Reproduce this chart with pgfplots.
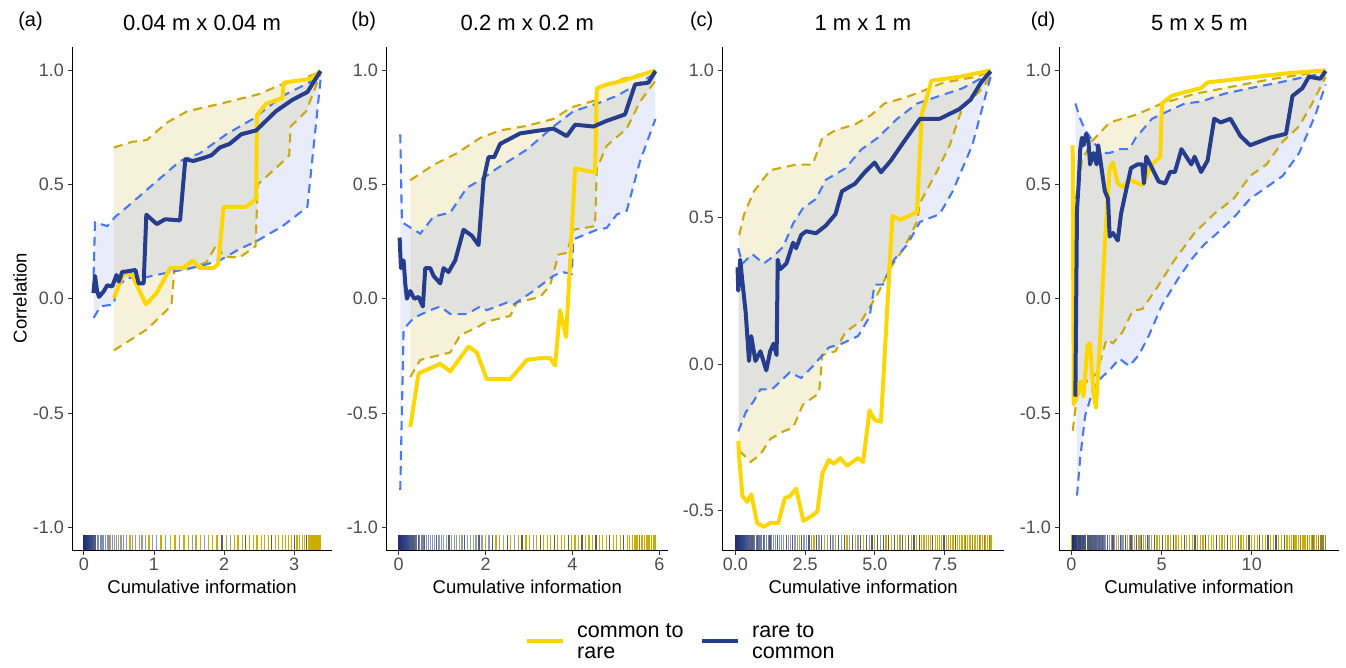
\documentclass[border=0pt]{standalone}
\usepackage{fontspec}
\setmainfont{Liberation Sans}
\usepackage{pgfplots}
\pgfplotsset{compat=1.18}
\usepgfplotslibrary{fillbetween}
\definecolor{navy}{HTML}{263D8E}
\definecolor{gold}{HTML}{FFD700}
\definecolor{dgold}{HTML}{C9A90E}
\definecolor{dblue}{HTML}{4A78F0}
\definecolor{sy}{HTML}{D9C766}
\definecolor{sb}{HTML}{8FA6EA}
\definecolor{tickgray}{HTML}{4D4D4D}
\pgfplotsset{
  colormap={rugmap}{color(0cm)=(navy) color(1cm)=(sb!70!white) color(2cm)=(gold) color(3cm)=(black!55)},
  panel/.style={
    set layers,
    scale only axis, height=502.5pt,
    anchor=south west,
    axis lines*=left,
    axis line style={black, line width=0.7pt},
    tick align=outside, major tick length=4.5pt,
    tick style={black!80, line width=0.7pt},
    ticklabel style={font=\fontsize{18}{20}\selectfont, text=tickgray},
    /pgf/number format/assume math mode=true,
    xlabel={Cumulative information},
    xlabel style={font=\fontsize{18.5}{20}\selectfont, at={(axis description cs:0.5,0)}, anchor=center, yshift=-36.7pt},
    ytick={-1,-0.5,0,0.5,1},
    yticklabel style={/pgf/number format/fixed, /pgf/number format/fixed zerofill, /pgf/number format/precision=1},
    ymin=-1.1, ymax=1.1,
  },
  thickY/.style={gold, line width=4pt, line join=round},
  thickB/.style={navy, line width=4pt, line join=round},
  dashY/.style={dgold, line width=2.1pt, dash pattern=on 9pt off 6pt},
  dashB/.style={dblue, line width=2.1pt, dash pattern=on 9pt off 6pt},
  rugplot/.style={scatter, only marks, mark=|, mark size=7.5pt, mark options={line width=1.2pt}, scatter src=explicit, point meta min=0, point meta max=3, colormap name=rugmap},
  fillY/.style={fill=sy, fill opacity=0.24, draw=none},
  fillB/.style={fill=sb, fill opacity=0.2, draw=none},
}
\begin{document}
\begin{tikzpicture}[x=1pt,y=1pt]
\path (0,0) rectangle (1346,667);
% ---------------- (a)
\begin{axis}[panel, at={(72pt,117pt)}, width=260pt, xmin=-0.168, xmax=3.54, xtick={0,1,2,3}]
\addplot[name path=yu, dashY] coordinates {(0.429,0.662) (0.689,0.687) (0.9,0.695) (1.18,0.77) (1.47,0.82) (2.03,0.86) (2.5,0.896) (2.79,0.935) (3.1,0.96) (3.377,0.995)};
\addplot[name path=yl, dashY] coordinates {(0.429,-0.226) (0.689,-0.176) (0.9,-0.134) (1.05,-0.09) (1.25,-0.03) (1.29,0.12) (1.5,0.13) (1.75,0.16) (1.9,0.24) (1.99,0.185) (2.22,0.18) (2.45,0.23) (2.48,0.5) (2.79,0.586) (2.93,0.628) (2.95,0.754) (3.17,0.82) (3.377,0.985)};
\addplot[name path=bu, dashB] coordinates {(0.14,0.1) (0.16,0.335) (0.335,0.318) (0.453,0.36) (0.618,0.402) (0.9,0.477) (1.373,0.603) (1.656,0.637) (2.033,0.72) (2.41,0.787) (2.835,0.888) (3.212,0.946) (3.377,0.99)};
\addplot[name path=bl, dashB] coordinates {(0.14,-0.084) (0.24,-0.033) (0.429,-0.025) (0.47,0.05) (0.618,0.092) (0.854,0.092) (1.373,0.126) (1.656,0.142) (1.939,0.168) (2.222,0.218) (2.458,0.251) (2.835,0.318) (3.189,0.402) (3.377,0.96)};
\addplot[fillY] fill between[of=yu and yl];
\addplot[fillB] fill between[of=bu and bl];
\addplot[rugplot] table[row sep=\\, x=x, y expr=-1.067, meta=m] {
x m\\ 0 0\\ 0.01 0\\ 0.02 0\\ 0.03 0.05\\ 0.04 0.05\\ 0.05 0.1\\ 0.06 0.1\\ 0.07 0.15\\ 0.08 0.15\\ 0.09 0.2\\ 0.10 0.2\\ 0.11 0.25\\ 0.12 0.3\\ 0.13 0.3\\ 0.14 0.35\\ 0.15 0.4\\ 0.165 3\\
0.19 0.8\\ 0.21 0.9\\ 0.235 0.8\\ 0.26 0.9\\ 0.285 0.85\\ 0.31 0.9\\ 0.335 1\\ 0.36 0.9\\ 0.385 2\\ 0.41 0.9\\ 0.44 1\\ 0.47 0.9\\ 0.5 2\\ 0.53 1\\ 0.57 0.9\\ 0.61 1\\ 0.66 2\\ 0.7 1\\ 0.74 1\\ 0.79 2\\ 0.83 1\\ 0.88 1\\ 0.93 2\\ 0.98 1\\ 1.04 1\\ 1.1 2\\ 1.17 1\\ 1.24 2\\ 1.3 2\\ 1.36 1\\ 1.43 2\\ 1.49 2\\ 1.55 1\\ 1.6 2\\ 1.66 2\\ 1.72 1\\ 1.78 2\\ 1.84 2\\ 1.9 2\\ 1.97 3\\ 2.03 2\\ 2.09 1\\ 2.15 2\\ 2.2 2\\ 2.26 2\\ 2.31 3\\ 2.36 2\\ 2.42 2\\ 2.47 2\\ 2.53 2\\ 2.58 2\\ 2.63 2\\ 2.68 3\\ 2.73 2\\ 2.78 2\\ 2.83 2\\ 2.88 2\\ 2.92 2\\ 2.96 2\\ 3.0 3\\ 3.04 2\\ 3.08 2\\ 3.12 2\\ 3.15 2\\ 3.18 3\\
3.21 2\\ 3.22 2\\ 3.23 2\\ 3.24 2\\ 3.25 2\\ 3.26 2\\ 3.27 2\\ 3.28 2\\ 3.29 2\\ 3.3 2\\ 3.31 2\\ 3.32 2\\ 3.33 2\\ 3.34 2\\ 3.35 2\\ 3.36 2\\ 3.37 2\\
};
\addplot[thickY] coordinates {(0.429,0.003) (0.571,0.114) (0.689,0.104) (0.887,-0.025) (1.04,0.025) (1.231,0.134) (1.42,0.134) (1.552,0.168) (1.656,0.134) (1.844,0.134) (1.915,0.151) (1.995,0.402) (2.316,0.402) (2.458,0.436) (2.47,0.804) (2.6,0.854) (2.835,0.879) (2.85,0.946) (3.236,0.963) (3.377,0.997)};
\addplot[thickB] coordinates {(0.137,0.025) (0.16,0.10) (0.19,0.034) (0.217,0.008) (0.288,0.034) (0.335,0.059) (0.406,0.054) (0.467,0.104) (0.5,0.075) (0.547,0.117) (0.642,0.121) (0.736,0.126) (0.783,0.067) (0.854,0.067) (0.892,0.368) (1.042,0.327) (1.16,0.348) (1.373,0.343) (1.448,0.611) (1.561,0.603) (1.703,0.616) (1.821,0.628) (1.939,0.662) (2.08,0.678) (2.245,0.72) (2.458,0.737) (2.74,0.821) (2.976,0.871) (3.189,0.905) (3.377,0.997)};
\end{axis}
% ---------------- (b)
\begin{axis}[panel, at={(386pt,117pt)}, width=282.5pt, xmin=-0.29, xmax=6.21, xtick={0,2,4,6}]
\addplot[name path=yu, dashY] coordinates {(0.268,0.519) (0.805,0.586) (1.341,0.637) (1.877,0.704) (2.337,0.737) (2.95,0.757) (3.563,0.787) (3.977,0.838) (4.52,0.868) (4.56,0.921) (5.172,0.963) (5.91,1.0)};
\addplot[name path=yl, dashY] coordinates {(0.268,-0.343) (0.498,-0.268) (1.188,-0.235) (1.418,-0.159) (1.8,-0.126) (2.03,-0.1) (2.567,-0.075) (2.72,-0.017) (3.257,0.008) (3.487,0.059) (3.678,0.193) (3.87,0.201) (4.023,0.302) (4.52,0.318) (4.56,0.57) (4.789,0.67) (5.249,0.745) (5.556,0.863) (5.91,0.955)};
\addplot[name path=bu, dashB] coordinates {(0.038,0.72) (0.077,0.335) (0.498,0.285) (0.805,0.36) (1.188,0.377) (1.571,0.486) (1.877,0.519) (2.261,0.57) (2.95,0.653) (3.563,0.754) (4.023,0.821) (4.56,0.854) (5.019,0.888) (5.556,0.946) (5.91,0.988)};
\addplot[name path=bl, dashB] coordinates {(0.038,-0.838) (0.115,-0.134) (0.345,-0.084) (0.728,-0.05) (0.958,-0.034) (1.188,-0.067) (1.571,-0.067) (1.877,-0.034) (2.03,-0.05) (2.49,-0.017) (2.644,-0.025) (3.1,0.034) (3.563,0.1) (3.755,0.117) (3.985,0.109) (4.023,0.26) (4.56,0.302) (4.789,0.31) (5.019,0.369) (5.249,0.385) (5.556,0.603) (5.91,0.787)};
\addplot[fillY] fill between[of=yu and yl];
\addplot[fillB] fill between[of=bu and bl];
\addplot[rugplot] table[row sep=\\, x=x, y expr=-1.067, meta=m] {
x m\\ 0 0\\ 0.02 0\\ 0.04 0.05\\ 0.06 0.05\\ 0.08 0.1\\ 0.1 0.1\\ 0.12 0.15\\ 0.14 0.15\\ 0.16 0.2\\ 0.18 0.2\\ 0.2 0.25\\ 0.22 0.3\\ 0.24 0.3\\ 0.26 0.35\\ 0.28 0.4\\ 0.3 0.4\\ 0.33 3\\ 0.36 0.5\\ 0.39 0.55\\ 0.42 0.6\\ 0.45 3\\ 0.48 0.7\\ 0.52 0.75\\ 0.56 0.8\\ 0.6 3\\ 0.64 0.85\\ 0.68 0.9\\ 0.73 1\\ 0.78 0.9\\ 0.83 1\\ 0.88 3\\ 0.93 1\\ 0.98 0.9\\ 1.04 1\\ 1.1 1\\ 1.16 3\\ 1.22 1\\ 1.28 0.9\\ 1.34 1\\ 1.4 2\\ 1.46 1\\ 1.52 3\\ 1.58 1\\ 1.65 1\\ 1.72 2\\ 1.78 1\\ 1.85 3\\ 1.92 1\\ 2.0 2\\ 2.08 1\\ 2.16 3\\ 2.24 2\\ 2.33 1\\ 2.42 2\\ 2.5 3\\ 2.58 2\\ 2.66 1\\ 2.75 2\\ 2.84 3\\ 2.93 2\\ 3.02 2\\ 3.1 1\\ 3.18 2\\ 3.26 3\\ 3.34 2\\ 3.42 2\\ 3.5 2\\ 3.58 3\\ 3.66 2\\ 3.74 2\\ 3.82 2\\ 3.9 3\\ 3.98 2\\ 4.06 2\\ 4.14 2\\ 4.22 3\\ 4.3 2\\ 4.38 2\\ 4.46 2\\ 4.54 3\\ 4.62 2\\ 4.7 2\\ 4.78 2\\ 4.86 3\\ 4.94 2\\ 5.02 2\\ 5.1 2\\ 5.18 3\\ 5.26 2\\ 5.32 2\\ 5.38 2\\ 5.42 2\\ 5.46 2\\ 5.5 2\\ 5.54 2.5\\ 5.58 2\\ 5.62 2\\ 5.66 2\\ 5.7 2\\ 5.74 2\\ 5.78 2\\ 5.82 2\\ 5.86 2\\ 5.9 2\\ 5.92 2\\
};
\addplot[thickY] coordinates {(0.268,-0.561) (0.46,-0.327) (0.958,-0.285) (1.188,-0.318) (1.609,-0.209) (1.8,-0.235) (2.03,-0.352) (2.567,-0.352) (2.797,-0.302) (2.95,-0.268) (3.257,-0.26) (3.487,-0.26) (3.6,-0.293) (3.716,-0.05) (3.854,-0.168) (4.061,0.57) (4.52,0.553) (4.56,0.921) (4.789,0.938) (5.172,0.955) (5.862,0.997) (5.91,1.0)};
\addplot[thickB] coordinates {(0.023,0.268) (0.054,0.134) (0.115,0.168) (0.153,0.067) (0.19,0.0) (0.268,0.034) (0.36,0.0) (0.46,0.008) (0.559,-0.034) (0.613,0.134) (0.728,0.134) (0.805,0.1) (0.958,0.067) (1.034,0.134) (1.149,0.117) (1.303,0.168) (1.494,0.302) (1.686,0.276) (1.839,0.235) (1.954,0.519) (2.069,0.62) (2.199,0.62) (2.337,0.678) (2.797,0.724) (3.257,0.737) (3.563,0.745) (3.87,0.712) (4.061,0.762) (4.483,0.754) (4.789,0.779) (5.21,0.807) (5.44,0.938) (5.747,0.946) (5.91,0.997)};
\end{axis}
% ---------------- (c)
\begin{axis}[panel, at={(722pt,117pt)}, width=282.3pt, xmin=-0.477, xmax=9.64, ymin=-0.634, ymax=1.078, xtick={0,2.5,5,7.5}, ytick={-0.5,0,0.5,1},
  xticklabel style={/pgf/number format/fixed, /pgf/number format/fixed zerofill, /pgf/number format/precision=1}]
\addplot[name path=yu, dashY] coordinates {(0.14,0.439) (0.315,0.51) (0.666,0.588) (1.25,0.66) (2.18,0.679) (2.77,0.679) (3.12,0.77) (3.59,0.796) (4.29,0.816) (4.87,0.848) (5.34,0.887) (6.04,0.906) (6.62,0.926) (7.44,0.958) (8.61,0.978) (9.15,0.997)};
\addplot[name path=yl, dashY] coordinates {(0.14,-0.295) (0.55,-0.334) (0.9,-0.308) (1.25,-0.256) (1.72,-0.23) (2.07,-0.217) (2.42,-0.139) (3.0,-0.1) (3.12,0.03) (3.59,0.043) (3.94,0.108) (4.52,0.147) (5.1,0.238) (5.57,0.329) (6.04,0.394) (6.51,0.484) (6.62,0.549) (7.21,0.653) (7.68,0.744) (8.14,0.874) (8.73,0.926) (9.15,0.978)};
\addplot[name path=bu, dashB] coordinates {(0.105,0.394) (0.257,0.342) (0.607,0.374) (1.016,0.342) (1.37,0.367) (1.72,0.4) (2.07,0.478) (2.42,0.53) (2.89,0.562) (3.24,0.627) (3.94,0.666) (4.52,0.731) (5.1,0.77) (5.8,0.835) (6.51,0.887) (7.32,0.913) (8.14,0.939) (9.15,0.99)};
\addplot[name path=bl, dashB] coordinates {(0.105,-0.23) (0.374,-0.165) (0.666,-0.126) (0.9,-0.087) (1.31,-0.087) (1.6,-0.061) (1.95,-0.029) (2.36,-0.048) (2.77,-0.009) (3.35,0.056) (3.82,0.069) (4.4,0.095) (4.81,0.16) (4.99,0.27) (5.28,0.27) (5.69,0.355) (6.16,0.406) (6.62,0.484) (7.32,0.51) (7.79,0.588) (8.08,0.653) (8.49,0.744) (9.15,0.978)};
\addplot[fillY] fill between[of=yu and yl];
\addplot[fillB] fill between[of=bu and bl];
\addplot[rugplot] table[row sep=\\, x=x, y expr=-0.6085, meta=m] {
x m\\ 0 0\\ 0.03 0\\ 0.06 0\\ 0.09 0.05\\ 0.12 0.05\\ 0.15 0.1\\ 0.18 0.1\\ 0.21 0.15\\ 0.24 0.15\\ 0.27 0.2\\ 0.3 0.2\\ 0.33 0.25\\ 0.36 0.3\\ 0.39 0.3\\ 0.42 0.35\\ 0.45 0.4\\ 0.48 0.4\\ 0.51 0.45\\ 0.54 0.5\\ 0.57 0.5\\ 0.6 3\\ 0.65 0.55\\ 0.7 0.6\\ 0.75 0.6\\ 0.8 3\\ 0.85 0.65\\ 0.9 0.7\\ 0.95 0.7\\ 1.0 3\\ 1.06 0.75\\ 1.12 0.8\\ 1.18 0.8\\ 1.24 3\\ 1.3 0.85\\ 1.37 0.9\\ 1.44 0.9\\ 1.51 3\\ 1.58 1\\ 1.66 0.9\\ 1.74 1\\ 1.82 3\\ 1.9 1\\ 1.98 1\\ 2.06 3\\ 2.14 1\\ 2.22 1\\ 2.3 2\\ 2.38 3\\ 2.46 1\\ 2.55 1\\ 2.64 3\\ 2.73 1\\ 2.82 2\\ 2.91 3\\ 3.0 1\\ 3.1 3\\ 3.2 2\\ 3.3 1\\ 3.4 3\\ 3.5 1\\ 3.6 2\\ 3.7 3\\ 3.8 1\\ 3.9 3\\ 4.0 2\\ 4.1 1\\ 4.2 3\\ 4.3 2\\ 4.4 1\\ 4.5 3\\ 4.6 2\\ 4.7 3\\ 4.8 1\\ 4.9 3\\ 5.0 2\\ 5.1 3\\ 5.2 1\\ 5.3 3\\ 5.4 2\\ 5.5 3\\ 5.6 2\\ 5.7 3\\ 5.8 2\\ 5.9 1.5\\ 6.0 3\\ 6.1 2\\ 6.2 3\\ 6.3 2\\ 6.4 3\\ 6.5 2\\ 6.6 3\\ 6.68 2\\ 6.76 1.8\\ 6.84 2\\ 6.92 1.8\\ 7.0 2\\ 7.08 3\\ 7.16 1.8\\ 7.24 2\\ 7.32 1.8\\ 7.4 2\\ 7.48 3\\ 7.56 2\\ 7.64 1.8\\ 7.72 2\\ 7.8 2\\ 7.88 3\\ 7.96 2\\ 8.04 2\\ 8.12 2\\ 8.2 2\\ 8.26 2.5\\ 8.32 2\\ 8.38 2\\ 8.44 2\\ 8.5 2.5\\ 8.56 2\\ 8.62 2\\ 8.68 2\\ 8.74 2.5\\ 8.8 2\\ 8.86 2\\ 8.92 2.5\\ 8.98 2\\ 9.04 2\\ 9.1 2.5\\ 9.16 2\\
};
\addplot[thickY] coordinates {(0.105,-0.262) (0.14,-0.32) (0.257,-0.451) (0.432,-0.47) (0.572,-0.444) (0.783,-0.542) (1.016,-0.555) (1.25,-0.542) (1.54,-0.542) (1.776,-0.457) (1.95,-0.451) (2.18,-0.425) (2.44,-0.535) (2.77,-0.516) (2.94,-0.503) (3.12,-0.373) (3.35,-0.327) (3.53,-0.34) (3.76,-0.321) (4.0,-0.347) (4.4,-0.321) (4.58,-0.334) (4.81,-0.158) (4.99,-0.191) (5.22,-0.197) (5.63,0.504) (5.92,0.491) (6.51,0.517) (6.68,0.848) (7.03,0.965) (8.03,0.978) (9.15,1.0)};
\addplot[thickB] coordinates {(0.08,0.329) (0.105,0.25) (0.175,0.355) (0.257,0.277) (0.374,0.173) (0.49,0.01) (0.57,0.095) (0.72,0.01) (0.9,0.043) (1.11,-0.022) (1.25,0.043) (1.37,0.069) (1.48,0.03) (1.52,0.355) (1.6,0.322) (1.83,0.342) (2.07,0.413) (2.18,0.394) (2.36,0.439) (2.54,0.452) (2.89,0.445) (3.24,0.471) (3.59,0.51) (3.82,0.588) (4.05,0.601) (4.29,0.614) (4.64,0.653) (4.99,0.686) (5.22,0.653) (5.57,0.692) (6.04,0.757) (6.62,0.835) (7.32,0.835) (8.03,0.868) (8.43,0.9) (8.8,0.958) (9.15,0.997)};
\end{axis}
% ---------------- (d)
\begin{axis}[panel, at={(1059pt,117pt)}, width=280pt, xmin=-0.69, xmax=14.84, xtick={0,5,10}]
\addplot[name path=yu, dashY] coordinates {(0.127,0.372) (0.58,0.605) (1.12,0.688) (2.12,0.772) (3.57,0.805) (5.02,0.855) (6.83,0.897) (9.0,0.93) (11.18,0.963) (14.1,0.997)};
\addplot[name path=yl, dashY] coordinates {(0.07,-0.578) (0.308,-0.428) (0.85,-0.362) (1.395,-0.328) (1.94,-0.178) (2.3,-0.195) (2.84,-0.145) (3.39,-0.053) (3.93,-0.045) (4.66,0.038) (5.74,0.172) (6.83,0.288) (7.92,0.372) (9.0,0.438) (9.91,0.538) (10.82,0.588) (11.72,0.688) (12.63,0.755) (13.35,0.855) (14.1,0.972)};
\addplot[name path=bu, dashB] coordinates {(0.217,0.855) (0.489,0.788) (0.76,0.738) (1.214,0.688) (1.667,0.638) (2.12,0.638) (2.66,0.655) (3.21,0.655) (3.57,0.705) (3.93,0.738) (4.47,0.788) (5.38,0.822) (6.29,0.855) (7.19,0.863) (8.46,0.897) (9.91,0.922) (11.54,0.947) (12.99,0.972) (14.1,0.988)};
\addplot[name path=bl, dashB] coordinates {(0.308,-0.862) (0.489,-0.695) (0.76,-0.512) (1.214,-0.395) (1.667,-0.345) (2.12,-0.312) (2.66,-0.262) (3.21,-0.295) (3.75,-0.245) (4.29,-0.162) (5.02,-0.028) (5.92,0.088) (6.65,0.172) (7.37,0.238) (8.1,0.288) (9.0,0.355) (9.91,0.438) (10.82,0.488) (11.72,0.538) (12.63,0.638) (13.53,0.805) (14.1,0.938)};
\addplot[fillY] fill between[of=yu and yl];
\addplot[fillB] fill between[of=bu and bl];
\addplot[rugplot] table[row sep=\\, x=x, y expr=-1.067, meta=m] {
x m\\ 0 2\\ 0.05 0\\ 0.1 0\\ 0.15 3\\ 0.2 0.1\\ 0.27 0.1\\ 0.34 3\\ 0.4 0.2\\ 0.47 0.2\\ 0.54 3\\ 0.6 0.25\\ 0.67 0.3\\ 0.74 3\\ 0.8 0.3\\ 0.87 0.35\\ 0.94 3\\ 1.0 0.4\\ 1.07 0.4\\ 1.14 3\\ 1.2 0.45\\ 1.27 0.5\\ 1.34 3\\ 1.4 0.5\\ 1.47 0.55\\ 1.54 3\\ 1.6 0.6\\ 1.67 0.6\\ 1.74 3\\ 1.8 0.65\\ 1.9 1\\ 2.0 3\\ 2.1 1\\ 2.2 0.9\\ 2.3 3\\ 2.4 1\\ 2.5 2\\ 2.6 1\\ 2.7 3\\ 2.8 1\\ 2.9 1\\ 3.0 3\\ 3.1 2\\ 3.2 1\\ 3.3 3\\ 3.4 1\\ 3.5 2\\ 3.6 3\\ 3.7 1\\ 3.8 2\\ 3.9 3\\ 4.0 1\\ 4.1 2\\ 4.2 3\\ 4.3 1\\ 4.45 2\\ 4.6 3\\ 4.75 2\\ 4.9 1.8\\ 5.05 3\\ 5.2 2\\ 5.35 1.8\\ 5.5 2\\ 5.65 3\\ 5.8 2\\ 5.95 1.8\\ 6.1 2\\ 6.25 3\\ 6.4 2\\ 6.55 1.8\\ 6.7 2\\ 6.85 3\\ 7.0 2\\ 7.15 1.8\\ 7.3 2\\ 7.45 3\\ 7.6 2\\ 7.75 1.8\\ 7.9 2\\ 8.05 3\\ 8.2 2\\ 8.35 1.8\\ 8.5 2\\ 8.65 3\\ 8.8 2\\ 8.95 2\\ 9.1 1.8\\ 9.25 3\\ 9.4 2\\ 9.55 2\\ 9.7 1.8\\ 9.85 3\\ 10.0 2\\ 10.15 2\\ 10.3 1.8\\ 10.45 3\\ 10.6 2\\ 10.75 2\\ 10.9 3\\ 11.05 2\\ 11.2 2\\ 11.35 3\\ 11.5 2\\ 11.65 2\\ 11.8 3\\ 11.95 2\\ 12.1 2\\ 12.2 2\\ 12.3 2.5\\ 12.4 2\\ 12.5 2\\ 12.6 2\\ 12.7 2.5\\ 12.8 2\\ 12.9 2\\ 13.0 2\\ 13.1 2.5\\ 13.2 2\\ 13.3 2\\ 13.4 2.5\\ 13.5 2\\ 13.6 2\\ 13.7 2.5\\ 13.8 2.5\\ 13.9 2.5\\ 14.0 2.5\\ 14.1 2.5\\
};
\addplot[thickY] coordinates {(0.07,0.672) (0.127,-0.462) (0.308,-0.428) (0.489,-0.362) (0.67,-0.428) (0.888,-0.203) (1.033,-0.195) (1.214,-0.412) (1.359,-0.478) (1.576,-0.195) (1.848,0.238) (2.12,0.572) (2.3,0.597) (2.57,0.505) (2.84,0.488) (3.21,0.522) (3.93,0.497) (4.47,0.588) (4.93,0.622) (5.02,0.855) (5.56,0.888) (6.29,0.905) (7.19,0.922) (7.55,0.947) (8.46,0.955) (10.27,0.972) (12.08,0.988) (14.1,1.0)};
\addplot[thickB] coordinates {(0.217,-0.428) (0.308,0.388) (0.399,0.505) (0.489,0.655) (0.58,0.705) (0.67,0.672) (0.815,0.722) (0.942,0.688) (1.033,0.588) (1.214,0.638) (1.395,0.588) (1.486,0.672) (1.667,0.572) (1.848,0.472) (2.029,0.438) (2.12,0.272) (2.3,0.288) (2.57,0.255) (2.75,0.372) (2.93,0.438) (3.3,0.572) (3.66,0.588) (3.93,0.588) (4.02,0.505) (4.15,0.622) (4.47,0.572) (4.84,0.513) (5.2,0.505) (5.47,0.555) (5.74,0.555) (6.1,0.655) (6.65,0.588) (6.83,0.622) (7.19,0.555) (7.55,0.605) (7.92,0.788) (8.28,0.772) (8.82,0.788) (9.37,0.713) (9.91,0.672) (11.0,0.705) (11.9,0.722) (12.26,0.888) (12.81,0.922) (13.17,0.972) (13.8,0.963) (14.1,0.997)};
\end{axis}
% ---------------- titles, tags, labels
\node[font=\fontsize{20}{22}\selectfont] at (30.5,646) {(a)};
\node[font=\fontsize{20}{22}\selectfont] at (363.7,646) {(b)};
\node[font=\fontsize{20}{22}\selectfont] at (701.7,646) {(c)};
\node[font=\fontsize{20}{22}\selectfont] at (1043,646) {(d)};
\node[font=\fontsize{22}{24}\selectfont] at (202,644) {0.04 m x 0.04 m};
\node[font=\fontsize{22}{24}\selectfont] at (527.3,644) {0.2 m x 0.2 m};
\node[font=\fontsize{22}{24}\selectfont] at (862.8,644) {1 m x 1 m};
\node[font=\fontsize{22}{24}\selectfont] at (1199.3,644) {5 m x 5 m};
\node[rotate=90, font=\fontsize{18.5}{20}\selectfont] at (20,369) {Correlation};
% legend
\draw[gold, line width=4pt] (527,26) -- (563,26);
\node[anchor=west, align=left, inner sep=0pt, font=\fontsize{21.5}{21}\selectfont] at (577,26) {common to\\rare};
\draw[navy, line width=4pt] (702,26) -- (738,26);
\node[anchor=west, align=left, inner sep=0pt, font=\fontsize{21.5}{21}\selectfont] at (752,26) {rare to\\common};
\end{tikzpicture}
\end{document}
